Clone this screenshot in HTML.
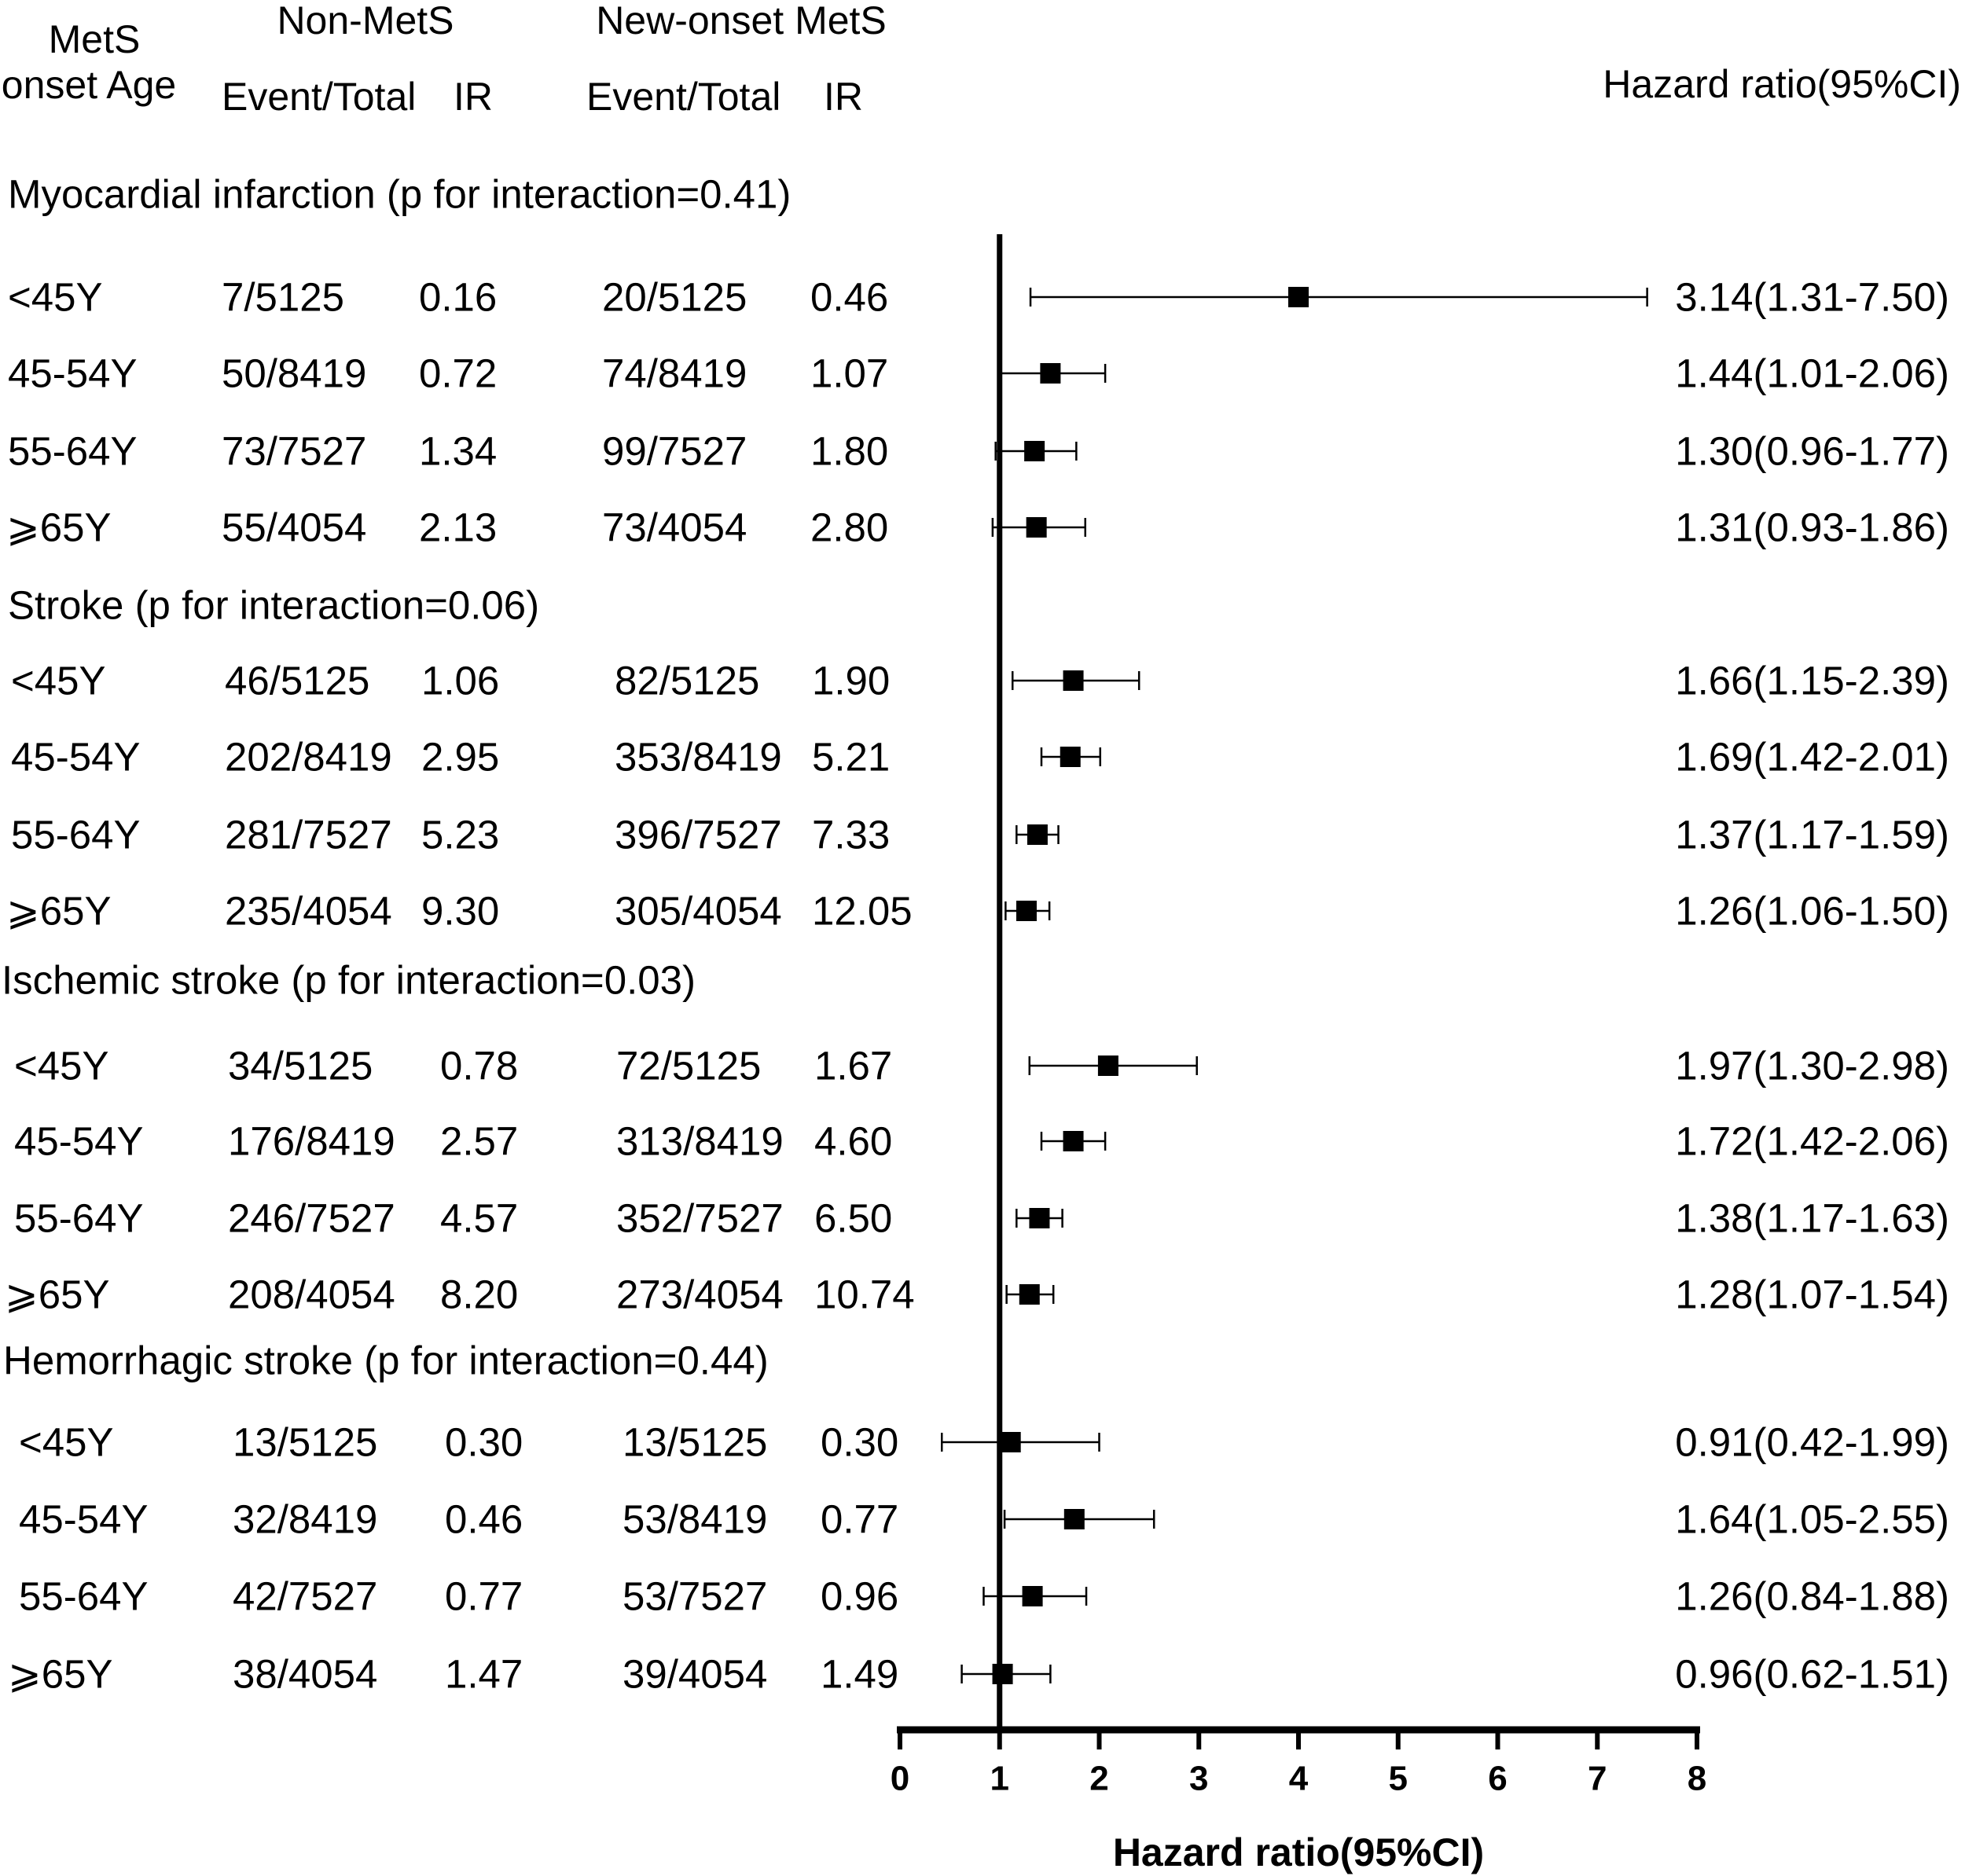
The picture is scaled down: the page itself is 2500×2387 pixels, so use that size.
<!DOCTYPE html>
<html><head><meta charset="utf-8"><style>
html,body{margin:0;padding:0;background:#fff;}
svg{display:block;font-family:"Liberation Sans",Arial,sans-serif;}
</style></head><body>
<svg id="chart" width="2500" height="2387" viewBox="0 0 2500 2387" xmlns="http://www.w3.org/2000/svg">
<g font-size="50" fill="#000" dominant-baseline="central">
<text x="120" y="50" text-anchor="middle">MetS</text>
<text x="113" y="108" text-anchor="middle">onset Age</text>
<text x="465" y="26" text-anchor="middle">Non-MetS</text>
<text x="943" y="26" text-anchor="middle">New-onset MetS</text>
<text x="282" y="123">Event/Total</text>
<text x="577" y="123">IR</text>
<text x="746" y="123">Event/Total</text>
<text x="1048" y="123">IR</text>
<text x="2495" y="107" text-anchor="end">Hazard ratio(95%CI)</text>
</g>
<g id="table" font-size="51" fill="#000" dominant-baseline="central"></g>
<g id="plot"></g>
</svg>
<script>
const groupTitles = ["Myocardial infarction (p for interaction=0.41)","Stroke (p for interaction=0.06)","Ischemic stroke (p for interaction=0.03)","Hemorrhagic stroke (p for interaction=0.44)"];
const ageLabels = ["<45Y","45-54Y","55-64Y","\u2A7E65Y"];
const nonEvents = [["7/5125","50/8419","73/7527","55/4054"],["46/5125","202/8419","281/7527","235/4054"],["34/5125","176/8419","246/7527","208/4054"],["13/5125","32/8419","42/7527","38/4054"]];
const nonIR = [["0.16","0.72","1.34","2.13"],["1.06","2.95","5.23","9.30"],["0.78","2.57","4.57","8.20"],["0.30","0.46","0.77","1.47"]];
const newEvents = [["20/5125","74/8419","99/7527","73/4054"],["82/5125","353/8419","396/7527","305/4054"],["72/5125","313/8419","352/7527","273/4054"],["13/5125","53/8419","53/7527","39/4054"]];
const newIR = [["0.46","1.07","1.80","2.80"],["1.90","5.21","7.33","12.05"],["1.67","4.60","6.50","10.74"],["0.30","0.77","0.96","1.49"]];
const hrText = [["3.14(1.31-7.50)","1.44(1.01-2.06)","1.30(0.96-1.77)","1.31(0.93-1.86)"],["1.66(1.15-2.39)","1.69(1.42-2.01)","1.37(1.17-1.59)","1.26(1.06-1.50)"],["1.97(1.30-2.98)","1.72(1.42-2.06)","1.38(1.17-1.63)","1.28(1.07-1.54)"],["0.91(0.42-1.99)","1.64(1.05-2.55)","1.26(0.84-1.88)","0.96(0.62-1.51)"]];
// plotted positions (as drawn in figure)
const pointEst = [[4.0,1.51,1.35,1.37],[1.74,1.71,1.38,1.27],[2.09,1.74,1.40,1.30],[1.11,1.75,1.33,1.03]];
const ciLow = [[1.31,1.0,0.96,0.93],[1.13,1.42,1.17,1.06],[1.30,1.42,1.17,1.07],[0.42,1.05,0.84,0.62]];
const ciHigh = [[7.50,2.06,1.77,1.86],[2.40,2.01,1.59,1.50],[2.98,2.06,1.63,1.54],[2.0,2.55,1.87,1.51]];
const xTicks = [0,1,2,3,4,5,6,7,8];

const NS="http://www.w3.org/2000/svg";
const X0=1145, X1=2159;
const xs = v => X0 + (v/8)*(X1-X0);
const groupY=[247,770,1247,1731];
const rowYs=[[378,475,574,671],[866,963,1062,1159],[1356,1452,1550,1647],[1835,1933,2031,2130]];
const table=document.getElementById('table'), plot=document.getElementById('plot');
function mk(tag,attrs,parent,txt){const e=document.createElementNS(NS,tag);for(const k in attrs)e.setAttribute(k,attrs[k]);if(txt!==undefined)e.textContent=txt;parent.appendChild(e);return e;}
const ageX=[[10,10,10,8],[14,14,14,8],[18,18,18,6],[24,24,24,10]];
const neX=[282,286,290,296], nirX=[533,536,560,566], nwX=[766,782,784,792], nwirX=[1031,1033,1036,1044];
for(let g=0;g<4;g++){
  const t=mk('text',{x:g==0?10:g==1?10:g==2?2:4,y:groupY[g]},table,groupTitles[g]);
  
  
  for(let r=0;r<4;r++){
    const y=rowYs[g][r];
    let e;
    e=mk('text',{x:ageX[g][r],y:y},table,ageLabels[r]);
    
    
    e=mk('text',{x:neX[g],y:y},table,nonEvents[g][r]);
    
    
    e=mk('text',{x:nirX[g],y:y},table,nonIR[g][r]);
    
    
    e=mk('text',{x:nwX[g],y:y},table,newEvents[g][r]);
    
    
    e=mk('text',{x:nwirX[g],y:y},table,newIR[g][r]);
    
    
    e=mk('text',{x:2480,y:y,'text-anchor':'end'},table,hrText[g][r]);
    
    
    const lo=xs(ciLow[g][r]), hi=xs(ciHigh[g][r]), p=xs(pointEst[g][r]);
    e=mk('line',{x1:lo,x2:hi,y1:y,y2:y,stroke:'#000','stroke-width':2.5},plot);
    
    
    e=mk('line',{x1:lo,x2:lo,y1:y-12,y2:y+12,stroke:'#000','stroke-width':2.5},plot);
    
    
    e=mk('line',{x1:hi,x2:hi,y1:y-12,y2:y+12,stroke:'#000','stroke-width':2.5},plot);
    
    
    e=mk('rect',{x:p-13,y:y-13,width:26,height:26,fill:'#000'},plot);
    
    
  }
}
let e=mk('line',{x1:xs(1),x2:xs(1),y1:298,y2:2201,stroke:'#000','stroke-width':7},plot);


e=mk('line',{x1:X0-4,x2:X1+4,y1:2201,y2:2201,stroke:'#000','stroke-width':9},plot);


for(const t of xTicks){
  let k=mk('line',{x1:xs(t),x2:xs(t),y1:2201,y2:2226,stroke:'#000','stroke-width':6},plot);
  
  
  k=mk('text',{x:xs(t),y:2263,'text-anchor':'middle','font-size':44,'font-weight':'bold','dominant-baseline':'central'},plot,String(t));
  
  
}
e=mk('text',{x:1652,y:2357,'text-anchor':'middle','font-size':50,'font-weight':'bold','dominant-baseline':'central'},plot,'Hazard ratio(95%CI)');


</script>
</body></html>
